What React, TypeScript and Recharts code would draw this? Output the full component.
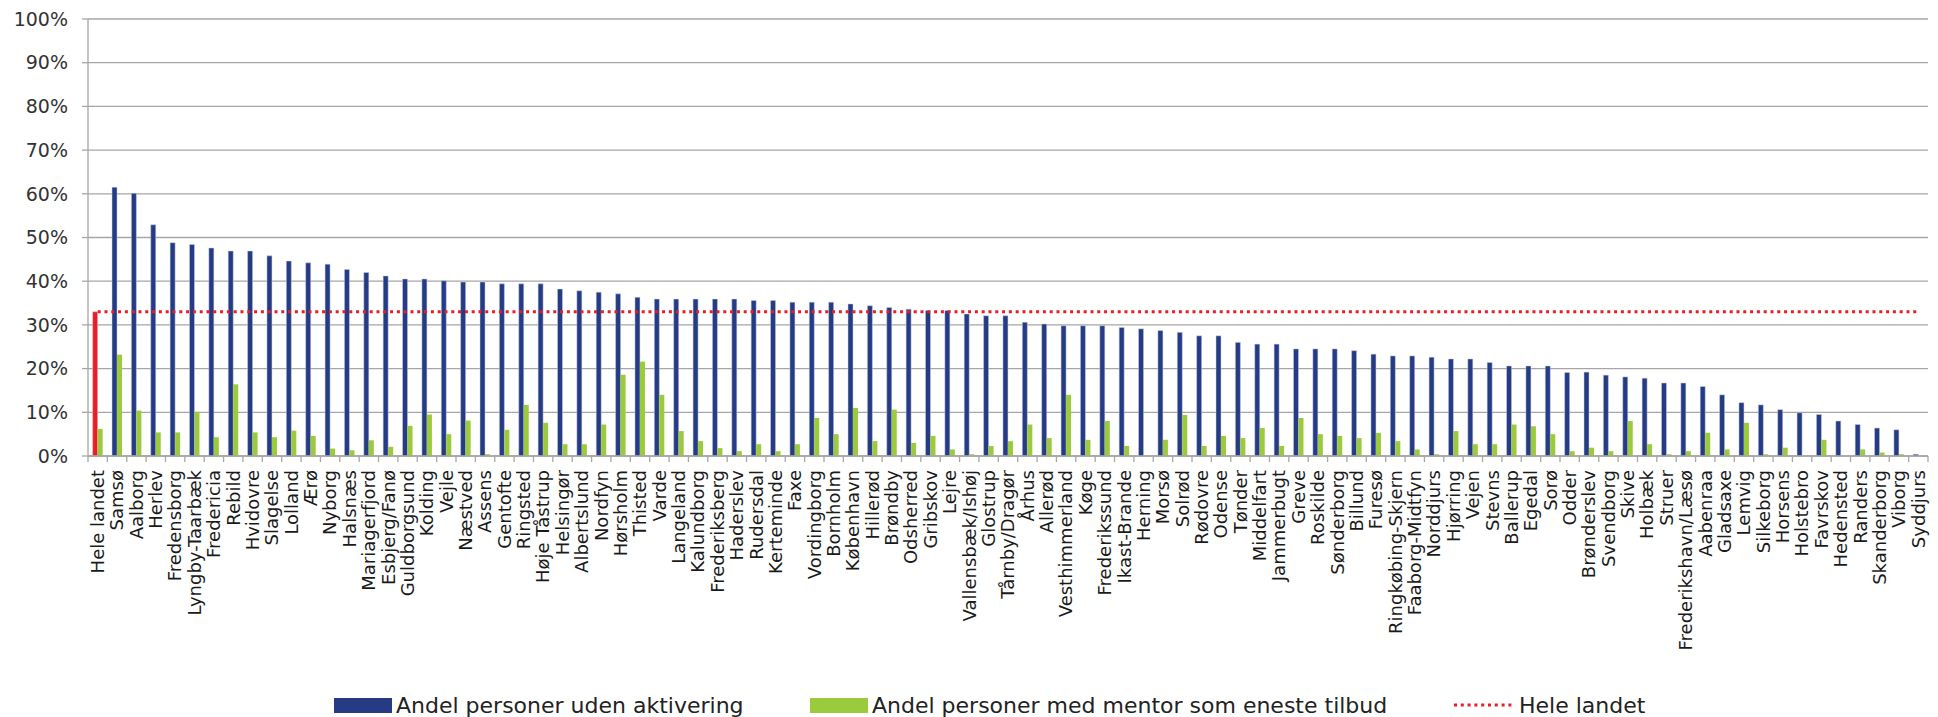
import { ComposedChart, Bar, Line, XAxis, YAxis, CartesianGrid, Legend, Cell } from "recharts";

const kommuner = [
  "Hele landet", "Samsø", "Aalborg", "Herlev", "Fredensborg", "Lyngby-Taarbæk", "Fredericia", "Rebild",
  "Hvidovre", "Slagelse", "Lolland", "Ærø", "Nyborg", "Halsnæs", "Mariagerfjord", "Esbjerg/Fanø",
  "Guldborgsund", "Kolding", "Vejle", "Næstved", "Assens", "Gentofte", "Ringsted", "Høje Tåstrup",
  "Helsingør", "Albertslund", "Nordfyn", "Hørsholm", "Thisted", "Varde", "Langeland", "Kalundborg",
  "Frederiksberg", "Haderslev", "Rudersdal", "Kerteminde", "Faxe", "Vordingborg", "Bornholm", "København",
  "Hillerød", "Brøndby", "Odsherred", "Gribskov", "Lejre", "Vallensbæk/Ishøj", "Glostrup", "Tårnby/Dragør",
  "Århus", "Allerød", "Vesthimmerland", "Køge", "Frederikssund", "Ikast-Brande", "Herning", "Morsø",
  "Solrød", "Rødovre", "Odense", "Tønder", "Middelfart", "Jammerbugt", "Greve", "Roskilde",
  "Sønderborg", "Billund", "Furesø", "Ringkøbing-Skjern", "Faaborg-Midtfyn", "Norddjurs", "Hjørring", "Vejen",
  "Stevns", "Ballerup", "Egedal", "Sorø", "Odder", "Brønderslev", "Svendborg", "Skive",
  "Holbæk", "Struer", "Frederikshavn/Læsø", "Aabenraa", "Gladsaxe", "Lemvig", "Silkeborg", "Horsens",
  "Holstebro", "Favrskov", "Hedensted", "Randers", "Skanderborg", "Viborg", "Syddjurs",
];

// andel personer uden aktivering (%)
const udenAktivering = [
  33.0, 61.5, 60.1, 52.9, 48.8, 48.4, 47.6, 46.9,
  46.9, 45.8, 44.6, 44.2, 43.9, 42.7, 42.0, 41.2,
  40.5, 40.5, 40.1, 39.8, 39.8, 39.4, 39.4, 39.4,
  38.2, 37.8, 37.5, 37.1, 36.3, 35.9, 35.9, 35.9,
  35.9, 35.9, 35.6, 35.6, 35.2, 35.2, 35.2, 34.8,
  34.4, 34.0, 33.6, 33.3, 33.3, 32.5, 32.1, 32.1,
  30.6, 30.2, 29.8, 29.8, 29.8, 29.4, 29.1, 28.7,
  28.3, 27.5, 27.5, 26.0, 25.6, 25.6, 24.5, 24.5,
  24.5, 24.1, 23.3, 22.9, 22.9, 22.6, 22.2, 22.2,
  21.4, 20.6, 20.6, 20.6, 19.1, 19.2, 18.5, 18.1,
  17.8, 16.7, 16.7, 15.9, 14.0, 12.2, 11.7, 10.6,
  9.9, 9.5, 8.0, 7.2, 6.4, 6.0, 0.4,
];

// andel personer med mentor som eneste tilbud (%)
const mentorEnesteTilbud = [
  6.2, 23.2, 10.4, 5.4, 5.4, 10.1, 4.3, 16.4,
  5.4, 4.3, 5.8, 4.6, 1.7, 1.3, 3.6, 2.1,
  6.9, 9.5, 5.0, 8.1, 0.4, 6.0, 11.7, 7.6,
  2.7, 2.7, 7.2, 18.6, 21.6, 14.0, 5.7, 3.4,
  1.8, 1.1, 2.7, 1.1, 2.7, 8.7, 5.0, 11.0,
  3.4, 10.6, 3.0, 4.6, 1.5, 0.4, 2.3, 3.4,
  7.2, 4.1, 14.0, 3.7, 8.0, 2.3, 0, 3.7,
  9.4, 2.3, 4.6, 4.1, 6.4, 2.3, 8.7, 5.0,
  4.6, 4.1, 5.3, 3.4, 1.5, 0.4, 5.7, 2.7,
  2.7, 7.2, 6.8, 5.0, 1.1, 1.9, 1.1, 8.0,
  2.7, 0.4, 1.1, 5.3, 1.5, 7.6, 0.4, 1.9,
  0, 3.7, 0, 1.5, 0.8, 0.4, 0,
];

const heleLandet = 33.0;
const yTicks = [0, 10, 20, 30, 40, 50, 60, 70, 80, 90, 100];

const rows = kommuner.map((name, i) => ({
  name,
  uden: udenAktivering[i],
  mentor: mentorEnesteTilbud[i],
  landet: heleLandet,
}));

const W = 1938;
const H = 717;
const margin = { top: 19, right: 10, bottom: 0, left: 0 };
const Y_AXIS_W = 88;
const STEP = (W - margin.left - margin.right - Y_AXIS_W) / kommuner.length;

const BLUE = "#253b84";
const GREEN = "#9bcb3d";
const RED = "#ed1c24";
const GRID = "#a6a6a6";
const FONT = "DejaVu Sans";

const KommuneTick = ({ x, y, payload, index }: any) => (
  <g>
    <line x1={x - STEP / 2} x2={x - STEP / 2} y1={y} y2={y + 6} stroke={GRID} strokeWidth={1.3} />
    {index === kommuner.length - 1 && (
      <line x1={x + STEP / 2} x2={x + STEP / 2} y1={y} y2={y + 6} stroke={GRID} strokeWidth={1.3} />
    )}
    <text
      x={x}
      y={y + 14}
      transform={`rotate(-90, ${x}, ${y + 14})`}
      textAnchor="end"
      dy="0.35em"
      fontSize={18}
      fontFamily={FONT}
      fill="#1a1a1a"
    >
      {payload.value}
    </text>
  </g>
);

// legend items, left edge of each swatch
const legendLeft: Record<string, number> = { uden: 334, mentor: 810, landet: 1454 };

const LegendContent = ({ payload }: any) => (
  <div style={{ position: "relative", height: 28, fontFamily: FONT, fontSize: 22, color: "#222" }}>
    {(payload || []).map((p: any) => (
      <div
        key={p.dataKey}
        style={{ position: "absolute", left: legendLeft[p.dataKey], top: 0, height: 28, display: "flex", alignItems: "center" }}
      >
        {p.dataKey === "landet" ? (
          <svg width={58} height={14}>
            <line x1={0} x2={58} y1={7} y2={7} stroke={RED} strokeWidth={3} strokeDasharray="3 3.8" />
          </svg>
        ) : (
          <span style={{ display: "inline-block", width: 58, height: 15, background: p.color }} />
        )}
        <span style={{ marginLeft: p.dataKey === "landet" ? 7 : 4, whiteSpace: "nowrap" }}>{p.value}</span>
      </div>
    ))}
  </div>
);

export default function App() {
  return (
    <div style={{ position: "absolute", left: 0, top: 0, background: "#fff" }}>
      <ComposedChart width={W} height={H} data={rows} margin={margin} barCategoryGap="24%" barGap={0}>
        <CartesianGrid vertical={false} stroke={GRID} strokeWidth={1.3} />
        <XAxis
          dataKey="name"
          interval={0}
          height={233}
          tickLine={false}
          tickSize={0}
          tickMargin={0}
          axisLine={{ stroke: GRID, strokeWidth: 1.3 }}
          tick={<KommuneTick />}
        />
        <YAxis
          width={Y_AXIS_W}
          domain={[0, 100]}
          ticks={yTicks}
          interval={0}
          tickFormatter={(v: number) => `${v}%`}
          tickSize={6}
          tickMargin={14}
          tickLine={{ stroke: GRID, strokeWidth: 1.3 }}
          axisLine={{ stroke: GRID, strokeWidth: 1.3 }}
          tick={{ fontSize: 19, fill: "#333", fontFamily: FONT }}
        />
        <Legend
          verticalAlign="bottom"
          wrapperStyle={{ left: 0, width: W, bottom: -2 }}
          content={<LegendContent />}
        />
        <Bar dataKey="uden" name="Andel personer uden aktivering" fill={BLUE} stroke="#c9cfe3" strokeWidth={0.5} isAnimationActive={false}>
          {rows.map((_, i) => (
            <Cell key={i} fill={i === 0 ? RED : BLUE} />
          ))}
        </Bar>
        <Bar dataKey="mentor" name="Andel personer med mentor som eneste tilbud" fill={GREEN} isAnimationActive={false} />
        <Line
          dataKey="landet"
          name="Hele landet"
          type="linear"
          stroke={RED}
          strokeWidth={3}
          strokeDasharray="3 3.8"
          dot={false}
          activeDot={false}
          legendType="line"
          isAnimationActive={false}
        />
      </ComposedChart>
    </div>
  );
}
